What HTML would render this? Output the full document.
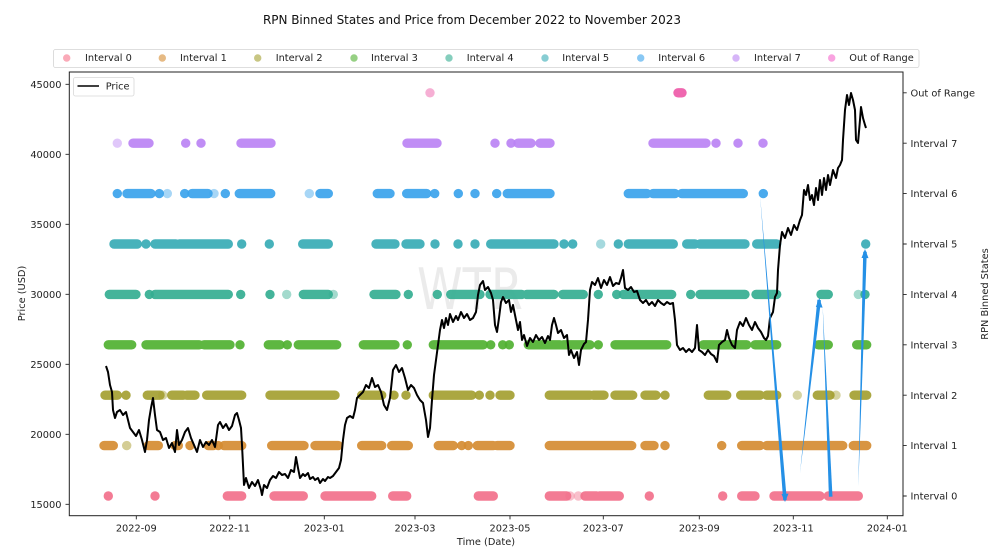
<!DOCTYPE html>
<html><head><meta charset="utf-8"><style>
html,body{margin:0;padding:0;background:#fff;}
svg{display:block;font-family:"DejaVu Sans","Liberation Sans",sans-serif;}
</style></head><body>
<svg width="1002" height="555" viewBox="0 0 1002 555" xmlns="http://www.w3.org/2000/svg">
<rect width="1002" height="555" fill="#fff"/>
<text x="472" y="24" font-size="12" text-anchor="middle" fill="#111" textLength="418">RPN Binned States and Price from December 2022 to November 2023</text>

<text x="417" y="309" font-size="57" fill="#000" fill-opacity="0.08" textLength="106" lengthAdjust="spacingAndGlyphs">WTR</text>

<g fill="none" stroke-width="9.4" stroke-linecap="round" stroke-opacity="0.92">
<path stroke="#bb83f4" d="M133 143.2H149M241 143.2H271M407 143.2H437M518 143.2H531M540 143.2H550M653 143.2H706"/>
<path stroke="#3ba3ec" d="M127 193.6H151M192 193.6H208M239.3 193.6H270.7M320 193.6H328.3M377.3 193.6H390M406.7 193.6H426.7M507.3 193.6H550M628.3 193.6H647M653 193.6H675M681.7 193.6H743.3"/>
<path stroke="#37abb5" d="M114 244H137.3M155 244H176M179.3 244H228.3M302.7 244H328.3M376 244H395M406 244H420M490.7 244H554M628.3 244H673.3M686.7 244H695M700 244H745M756.7 244H776.7"/>
<path stroke="#34ae91" d="M109.3 294.4H136M155 294.4H228.3M303.3 294.4H328.3M374 294.4H396M450.7 294.4H480M490 294.4H521.7M526.7 294.4H554M562.7 294.4H583.3M623.3 294.4H671.7M700 294.4H745M756 294.4H776.7M821 294.4H828.3"/>
<path stroke="#50b131" d="M108.3 344.8H131.7M146 344.8H199.3M204 344.8H230M268.3 344.8H280M298.3 344.8H336.7M363.3 344.8H395M433.3 344.8H483.3M528.3 344.8H546M549.3 344.8H560M563.3 344.8H590M615 344.8H666.7M703.3 344.8H746.7M755 344.8H776.7M818.3 344.8H828.3M856.7 344.8H866.7"/>
<path stroke="#a4a031" d="M105 395.2H117.3M147.3 395.2H160M171.7 395.2H183.3M186.7 395.2H195M206.7 395.2H241.7M270 395.2H335M361.7 395.2H381.7M433.3 395.2H471.7M500 395.2H510M549.3 395.2H590M593.3 395.2H604M615 395.2H632.7M645 395.2H656M708.3 395.2H726.7M740.7 395.2H760M766.7 395.2H776.7M817.3 395.2H830M854 395.2H866.7"/>
<path stroke="#d58c32" d="M104 445.6H113.3M148.3 445.6H158.3M175 445.6H178.3M208.3 445.6H213.3M224 445.6H241.7M271.7 445.6H304M315 445.6H338.3M361.7 445.6H381.7M391.7 445.6H408.3M438.3 445.6H453.3M477.3 445.6H493.3M497 445.6H510M549.3 445.6H631.7M645 445.6H654M741.7 445.6H760M766.7 445.6H842.7M853.3 445.6H866.7"/>
<path stroke="#f2708b" d="M227.3 496H241.7M274 496H303.3M325 496H371.7M392.7 496H406.7M478.3 496H493.3M549.3 496H566.7M585 496H596.7M599.3 496H619.3M741.7 496H755M774 496H820M828.3 496H858.3"/>
<path stroke="#ee5aa8" d="M678 92.8H682"/>
</g>
<g>
<g fill="#bb83f4" fill-opacity="0.92"><circle cx="185.7" cy="143.2" r="4.7"/><circle cx="201" cy="143.2" r="4.7"/><circle cx="495" cy="143.2" r="4.7"/><circle cx="511" cy="143.2" r="4.7"/><circle cx="716" cy="143.2" r="4.7"/><circle cx="738" cy="143.2" r="4.7"/><circle cx="763" cy="143.2" r="4.7"/></g>
<circle cx="117.3" cy="143.2" r="4.7" fill="#bb83f4" fill-opacity="0.45"/>
<g fill="#3ba3ec" fill-opacity="0.92"><circle cx="117.3" cy="193.6" r="4.7"/><circle cx="159.3" cy="193.6" r="4.7"/><circle cx="184.7" cy="193.6" r="4.7"/><circle cx="225.3" cy="193.6" r="4.7"/><circle cx="434.7" cy="193.6" r="4.7"/><circle cx="458.3" cy="193.6" r="4.7"/><circle cx="475" cy="193.6" r="4.7"/><circle cx="496.7" cy="193.6" r="4.7"/><circle cx="763.3" cy="193.6" r="4.7"/></g>
<g fill="#3ba3ec" fill-opacity="0.45"><circle cx="167.3" cy="193.6" r="4.7"/><circle cx="214" cy="193.6" r="4.7"/><circle cx="309.3" cy="193.6" r="4.7"/></g>
<g fill="#37abb5" fill-opacity="0.92"><circle cx="146" cy="244" r="4.7"/><circle cx="241.7" cy="244" r="4.7"/><circle cx="269.3" cy="244" r="4.7"/><circle cx="435" cy="244" r="4.7"/><circle cx="458" cy="244" r="4.7"/><circle cx="475" cy="244" r="4.7"/><circle cx="564" cy="244" r="4.7"/><circle cx="572.7" cy="244" r="4.7"/><circle cx="618.3" cy="244" r="4.7"/><circle cx="865.7" cy="244" r="4.7"/></g>
<circle cx="600.7" cy="244" r="4.7" fill="#37abb5" fill-opacity="0.45"/>
<g fill="#34ae91" fill-opacity="0.92"><circle cx="149.3" cy="294.4" r="4.7"/><circle cx="240.7" cy="294.4" r="4.7"/><circle cx="270" cy="294.4" r="4.7"/><circle cx="408.3" cy="294.4" r="4.7"/><circle cx="437.3" cy="294.4" r="4.7"/><circle cx="598.3" cy="294.4" r="4.7"/><circle cx="616.7" cy="294.4" r="4.7"/><circle cx="690.7" cy="294.4" r="4.7"/><circle cx="865" cy="294.4" r="4.7"/></g>
<g fill="#34ae91" fill-opacity="0.45"><circle cx="286.7" cy="294.4" r="4.7"/><circle cx="333.3" cy="294.4" r="4.7"/><circle cx="858.3" cy="294.4" r="4.7"/></g>
<g fill="#50b131" fill-opacity="0.92"><circle cx="240" cy="344.8" r="4.7"/><circle cx="287.3" cy="344.8" r="4.7"/><circle cx="407.3" cy="344.8" r="4.7"/><circle cx="490.7" cy="344.8" r="4.7"/><circle cx="502.7" cy="344.8" r="4.7"/><circle cx="509.3" cy="344.8" r="4.7"/><circle cx="598.3" cy="344.8" r="4.7"/></g>
<g fill="#a4a031" fill-opacity="0.92"><circle cx="126" cy="395.2" r="4.7"/><circle cx="394" cy="395.2" r="4.7"/><circle cx="406" cy="395.2" r="4.7"/><circle cx="479.3" cy="395.2" r="4.7"/><circle cx="490" cy="395.2" r="4.7"/><circle cx="665" cy="395.2" r="4.7"/></g>
<g fill="#a4a031" fill-opacity="0.45"><circle cx="162.7" cy="395.2" r="4.7"/><circle cx="797.3" cy="395.2" r="4.7"/><circle cx="836" cy="395.2" r="4.7"/></g>
<g fill="#d58c32" fill-opacity="0.92"><circle cx="190" cy="445.6" r="4.7"/><circle cx="218.3" cy="445.6" r="4.7"/><circle cx="461.7" cy="445.6" r="4.7"/><circle cx="468.3" cy="445.6" r="4.7"/><circle cx="665" cy="445.6" r="4.7"/><circle cx="721.7" cy="445.6" r="4.7"/></g>
<circle cx="126.7" cy="445.6" r="4.7" fill="#c9c07a" fill-opacity="0.8"/>
<g fill="#f2708b" fill-opacity="0.92"><circle cx="108.3" cy="496" r="4.7"/><circle cx="155" cy="496" r="4.7"/><circle cx="649.3" cy="496" r="4.7"/><circle cx="722.7" cy="496" r="4.7"/></g>
<g fill="#f2708b" fill-opacity="0.45"><circle cx="570" cy="496" r="4.7"/><circle cx="578.3" cy="496" r="4.7"/></g>
<circle cx="430" cy="92.8" r="4.7" fill="#f07ab8" fill-opacity="0.6"/>
</g>

<polyline id="price" fill="none" stroke="#000" stroke-width="2" stroke-linejoin="round" points="106,366 108,372 110,385 112,392 113,410 115,418 117,412 120,410 123,415 126,412 128,420 130,428 133,432 136,436 139,430 142,440 145,452 147,440 149,420 151,408 153,398 155,415 157,430 160,432 163,440 166,438 169,448 172,443 175,452 177,430 179,445 182,440 185,432 188,428 191,438 194,445 197,452 200,440 203,447 206,442 209,445 212,440 215,447 218,425 220,422 223,428 226,424 229,430 232,426 235,415 237,413 239,420 241,428 242,445 243,465 244,485 246,478 249,488 252,482 255,486 258,480 261,490 262,495 264,485 267,488 270,480 273,476 276,478 279,472 282,475 285,474 288,478 291,470 294,472 296,457 298,468 300,478 303,474 305,476 308,473 310,479 313,477 315,480 318,478 320,483 323,479 325,481 328,477 330,478 333,476 336,472 339,468 341,460 343,440 345,425 347,418 350,416 353,418 355,410 357,398 360,395 363,392 366,385 369,388 372,378 375,387 378,385 381,392 384,405 387,410 390,398 393,370 396,365 399,372 402,368 405,378 408,390 411,385 414,388 417,395 420,400 423,403 426,420 428,437 430,428 432,400 434,375 436,360 438,345 440,330 442,320 444,328 446,318 448,325 450,314 453,322 456,316 458,320 461,312 464,318 467,314 470,320 473,318 476,312 478,295 480,285 483,281 485,290 488,287 491,293 493,300 495,325 497,332 499,318 501,302 503,297 506,303 509,300 511,312 513,305 516,320 518,330 520,322 522,340 524,335 527,346 530,338 533,342 536,335 539,340 542,337 545,343 548,336 550,340 552,325 554,318 556,325 558,333 561,330 564,338 567,335 569,355 571,350 574,358 577,352 579,365 581,350 584,344 586,342 588,320 590,290 592,282 595,285 598,278 601,288 604,280 607,285 610,277 613,286 616,283 619,284 621,278 623,270 625,288 628,290 631,287 634,292 637,291 640,300 643,303 646,300 649,305 652,302 655,306 658,300 661,303 664,305 667,302 670,304 673,303 675,320 677,345 680,350 683,348 686,352 689,349 692,352 695,348 697,325 699,350 702,352 705,355 708,350 711,354 714,356 717,362 719,345 722,342 725,340 727,330 729,338 732,345 735,348 737,330 740,322 743,326 746,318 749,325 752,330 755,322 758,328 761,332 764,338 766,340 768,336 770,318 773,312 775,297 777,293 778,270 780,245 782,232 785,238 788,228 791,235 794,225 797,230 800,220 802,215 804,190 806,195 808,185 810,200 812,195 814,205 816,188 818,200 820,180 822,195 824,178 826,190 828,175 830,185 833,170 836,178 838,168 840,165 842,160 843,140 845,110 847,95 849,105 851,93 853,100 855,110 856,140 858,143 860,120 861,107 863,118 865,125 866,128"/>

<g fill="#2590e6">
<polygon points="760,195 786.8,499.8 783.2,500.2"/>
<polygon points="785,502 781.5,494 788.5,493.6"/>
<polygon points="800,473 817.4,299.6 821,300.2"/>
<polygon points="819.3,298 815.8,307 822.6,307.6"/>
<polygon points="822.7,306.7 832.5,496.6 828.9,496.8"/>
<polygon points="858.3,486.7 863.2,251.7 866.8,251.8"/>
<polygon points="865,249 861.5,258 868.5,258.1"/>
</g>

<rect x="69.3" y="72" width="833.7" height="443.7" fill="none" stroke="#222" stroke-width="1"/>

<g stroke="#222" stroke-width="0.9">
<path d="M65.5 84.3H69.3M65.5 154.3H69.3M65.5 224.3H69.3M65.5 294.3H69.3M65.5 364.3H69.3M65.5 434.3H69.3M65.5 504.3H69.3"/>
<path d="M903 92.8H906.7M903 143.2H906.7M903 193.6H906.7M903 244H906.7M903 294.4H906.7M903 344.8H906.7M903 395.2H906.7M903 445.6H906.7M903 496H906.7"/>
<path d="M136.3 515.7V519.4M229.7 515.7V519.4M324.3 515.7V519.4M415 515.7V519.4M510 515.7V519.4M603.3 515.7V519.4M699.3 515.7V519.4M793.3 515.7V519.4M887.3 515.7V519.4"/>
</g>
<g font-size="9.8" fill="#222" text-anchor="end">
<text x="61.5" y="87.9">45000</text>
<text x="61.5" y="157.9">40000</text>
<text x="61.5" y="227.9">35000</text>
<text x="61.5" y="297.9">30000</text>
<text x="61.5" y="367.9">25000</text>
<text x="61.5" y="437.9">20000</text>
<text x="61.5" y="507.9">15000</text>
</g>
<g font-size="9.8" fill="#222">
<text x="910.5" y="96.4">Out of Range</text>
<text x="910.5" y="146.8">Interval 7</text>
<text x="910.5" y="197.2">Interval 6</text>
<text x="910.5" y="247.6">Interval 5</text>
<text x="910.5" y="298">Interval 4</text>
<text x="910.5" y="348.4">Interval 3</text>
<text x="910.5" y="398.8">Interval 2</text>
<text x="910.5" y="449.2">Interval 1</text>
<text x="910.5" y="499.6">Interval 0</text>
</g>
<g font-size="9.8" fill="#222" text-anchor="middle">
<text x="136.3" y="531.5">2022-09</text>
<text x="229.7" y="531.5">2022-11</text>
<text x="324.3" y="531.5">2023-01</text>
<text x="415" y="531.5">2023-03</text>
<text x="510" y="531.5">2023-05</text>
<text x="603.3" y="531.5">2023-07</text>
<text x="699.3" y="531.5">2023-09</text>
<text x="793.3" y="531.5">2023-11</text>
<text x="887.3" y="531.5">2024-01</text>
<text x="486" y="545">Time (Date)</text>
<text transform="translate(25,293.5) rotate(-90)">Price (USD)</text>
<text transform="translate(988,294) rotate(-90)">RPN Binned States</text>
</g>

<rect x="73.5" y="77.5" width="60.5" height="18.5" rx="2" fill="#fff" fill-opacity="0.85" stroke="#d8d8d8" stroke-width="0.8"/>
<line x1="77.5" y1="86" x2="99" y2="86" stroke="#000" stroke-width="1.5"/>
<text x="105.7" y="89.5" font-size="9.8" fill="#222">Price</text>

<rect x="53.5" y="49.5" width="865.5" height="18" rx="2" fill="#fff" stroke="#d4d4d4" stroke-width="0.8"/>
<g fill-opacity="0.6">
<circle cx="66.7" cy="58" r="3.7" fill="#f77189"/>
<circle cx="162.3" cy="58" r="3.7" fill="#d58c32"/>
<circle cx="257.7" cy="58" r="3.7" fill="#a4a031"/>
<circle cx="354" cy="58" r="3.7" fill="#50b131"/>
<circle cx="449" cy="58" r="3.7" fill="#34ae91"/>
<circle cx="545" cy="58" r="3.7" fill="#37abb5"/>
<circle cx="640.7" cy="58" r="3.7" fill="#3ba3ec"/>
<circle cx="736" cy="58" r="3.7" fill="#bb83f4"/>
<circle cx="831.7" cy="58" r="3.7" fill="#f565cc"/>
</g>
<g font-size="9.8" fill="#222">
<text x="85" y="61">Interval 0</text>
<text x="180" y="61">Interval 1</text>
<text x="275.7" y="61">Interval 2</text>
<text x="371" y="61">Interval 3</text>
<text x="466.7" y="61">Interval 4</text>
<text x="562.3" y="61">Interval 5</text>
<text x="658.3" y="61">Interval 6</text>
<text x="754" y="61">Interval 7</text>
<text x="849.3" y="61">Out of Range</text>
</g>
</svg>
</body></html>
